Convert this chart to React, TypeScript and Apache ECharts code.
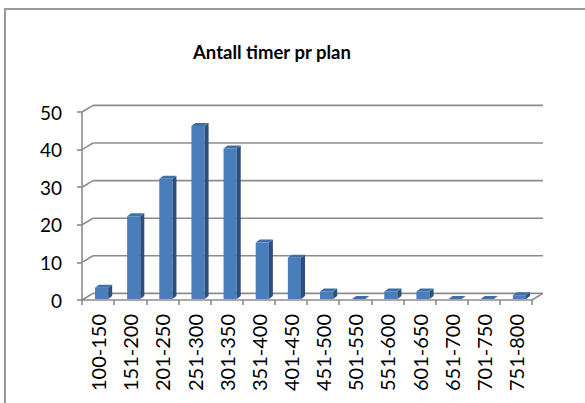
import React, { useEffect, useRef } from "react";
import * as echarts from "echarts";

const categories = [
  "100-150", "151-200", "201-250", "251-300", "301-350", "351-400", "401-450",
  "451-500", "501-550", "551-600", "601-650", "651-700", "701-750", "751-800",
];
const values = [3, 22, 32, 46, 40, 15, 11, 2, 0, 2, 2, 0, 0, 1];
const yTicks = [0, 10, 20, 30, 40, 50];
const titleText = "Antall timer pr plan";

const FONT = "Lato, 'Open Sans', sans-serif";
const GRID_COLOR = "#8c8c8c";
const DX = 11;
const DY = -6.6;

export default function App() {
  const ref = useRef<HTMLDivElement>(null);
  useEffect(() => {
    document.body.style.margin = "0";
    const chart = echarts.init(ref.current!, null, { renderer: "svg" });
    const option: any = {
      animation: false,
      backgroundColor: "#ffffff",
      textStyle: { fontFamily: FONT },
      title: {
        text: titleText,
        left: 188,
        top: 37,
        textStyle: { fontFamily: FONT, fontWeight: "bold", fontSize: 18.5, color: "#000" },
      },
      graphic: [
        {
          type: "rect",
          shape: { x: 5, y: 9, width: 700, height: 500 },
          style: { fill: "none", stroke: "#9a9a9a", lineWidth: 2 },
          silent: true,
        },
      ],
      grid: { left: 82, top: 112, width: 450, height: 188 },
      xAxis: {
        type: "category",
        data: categories,
        boundaryGap: true,
        axisLine: { show: true, lineStyle: { color: GRID_COLOR, width: 1.6 } },
        axisTick: { show: true, length: 5, lineStyle: { color: GRID_COLOR, width: 1.6 } },
        axisLabel: {
          rotate: 90,
          interval: 0,
          margin: 14,
          color: "#000",
          fontSize: 20,
          fontFamily: FONT,
        },
        splitLine: { show: false },
      },
      yAxis: {
        type: "value",
        min: 0,
        max: 50,
        interval: 10,
        axisLine: { show: true, lineStyle: { color: GRID_COLOR, width: 1.6 } },
        axisTick: { show: true, length: 5, lineStyle: { color: GRID_COLOR, width: 1.6 } },
        axisLabel: { margin: 20, color: "#000", fontSize: 19, fontFamily: FONT },
        splitLine: { show: false },
      },
      series: [
        {
          type: "custom",
          clip: false,
          silent: true,
          z: 1,
          data: yTicks.map((v) => [0, v]),
          renderItem: (params: any, api: any) => {
            const cs = params.coordSys;
            const v = api.value(1);
            const y = api.coord([0, v])[1];
            const x0 = cs.x;
            const x1 = cs.x + cs.width;
            const style = { stroke: GRID_COLOR, lineWidth: 1.6, fill: "none" };
            const children: any[] = [
              { type: "line", shape: { x1: x0, y1: y, x2: x0 + DX, y2: y + DY }, style },
              { type: "line", shape: { x1: x0 + DX, y1: y + DY, x2: x1 + DX, y2: y + DY }, style },
            ];
            if (v === 0) {
              children.push({ type: "line", shape: { x1: x1, y1: y, x2: x1 + DX, y2: y + DY }, style });
            }
            return { type: "group", children };
          },
        },
        {
          type: "custom",
          clip: false,
          z: 3,
          data: values.map((v, i) => [i, v]),
          renderItem: (params: any, api: any) => {
            const idx = api.value(0);
            const val = api.value(1);
            const base = api.coord([idx, 0]);
            const top = api.coord([idx, val]);
            const band = api.size([1, 0])[0];
            const bw = band * 0.41;
            const OX = 3.5;
            const OY = -1;
            const SD = 4;
            const SH = 3;
            const xl = base[0] - bw / 2 + OX;
            const xr = xl + bw;
            const yb = base[1] + OY;
            const yt = top[1] + OY;
            const children: any[] = [];
            if (yb - yt > 0.5) {
              children.push({
                type: "polygon",
                shape: { points: [[xl, yt], [xr, yt], [xr, yb], [xl, yb]] },
                style: { fill: "#4a7ebb" },
              });
              children.push({
                type: "polygon",
                shape: { points: [[xr, yt], [xr + SD, yt - SH], [xr + SD, yb - SH], [xr, yb]] },
                style: { fill: "#2c4f7d" },
              });
            }
            children.push({
              type: "polygon",
              shape: { points: [[xl, yt], [xl + SD, yt - SH], [xr + SD, yt - SH], [xr, yt]] },
              style: { fill: "#3f6fa8" },
            });
            return { type: "group", children };
          },
        },
      ],
    };
    chart.setOption(option);
    return () => chart.dispose();
  }, []);
  return (
    <div
      ref={ref}
      style={{ position: "fixed", left: 0, top: 0, width: 585, height: 403 }}
    />
  );
}
